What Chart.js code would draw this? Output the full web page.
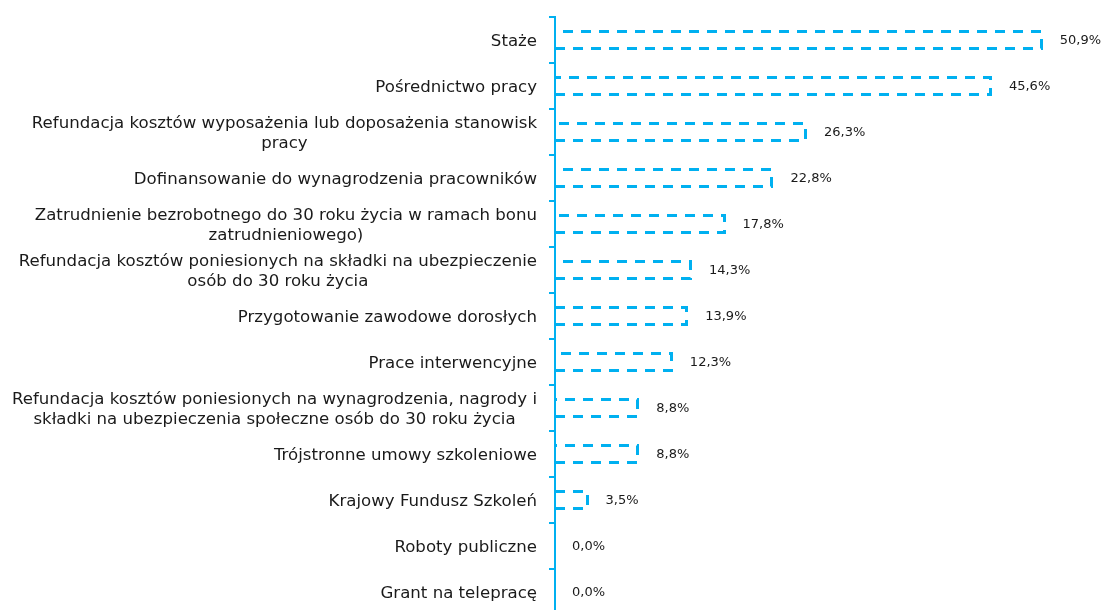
<!DOCTYPE html>
<html><head><meta charset="utf-8">
<script src="https://cdn.jsdelivr.net/npm/chart.js@4"></script>
<style>html,body{margin:0;padding:0;background:#fff;overflow:hidden}#wrap{position:relative;width:1103px;height:615px}</style>
</head><body><div id="wrap"><canvas id="c"></canvas></div>
<script>
const categories = [
  "Staże",
  "Pośrednictwo pracy",
  ["Refundacja kosztów wyposażenia lub doposażenia stanowisk", "pracy"],
  "Dofinansowanie do wynagrodzenia pracowników",
  ["Zatrudnienie bezrobotnego do 30 roku życia w ramach bonu", "zatrudnieniowego)"],
  ["Refundacja kosztów poniesionych na składki na ubezpieczenie", "osób do 30 roku życia"],
  "Przygotowanie zawodowe dorosłych",
  "Prace interwencyjne",
  ["Refundacja kosztów poniesionych na wynagrodzenia, nagrody i", "składki na ubezpieczenia społeczne osób do 30 roku życia"],
  "Trójstronne umowy szkoleniowe",
  "Krajowy Fundusz Szkoleń",
  "Roboty publiczne",
  "Grant na telepracę"
];
const values = [50.9, 45.6, 26.3, 22.8, 17.8, 14.3, 13.9, 12.3, 8.8, 8.8, 3.5, 0.0, 0.0];
const valueLabels = ["50,9%", "45,6%", "26,3%", "22,8%", "17,8%", "14,3%", "13,9%", "12,3%", "8,8%", "8,8%", "3,5%", "0,0%", "0,0%"];

const CYAN = '#00B0F0';
const TEXT = '#1a1a1a';
const LABEL_FONT = '16.6px "DejaVu Sans"';
const VALUE_FONT = '13px "DejaVu Sans"';

const dashedBars = {
  id: 'dashedBars',
  afterDatasetsDraw(chart) {
    const ctx = chart.ctx;
    const meta = chart.getDatasetMeta(0);
    ctx.save();
    ctx.strokeStyle = CYAN;
    ctx.lineWidth = 3;
    ctx.setLineDash([10, 8]);
    meta.data.forEach((bar, i) => {
      const p = bar.getProps(['x', 'y', 'base', 'height'], true);
      if (Math.abs(p.x - p.base) < 1) return;
      const t = Math.round(p.y - p.height / 2) + 1.5, b = Math.round(p.y + p.height / 2) - 1.5, r = Math.round(p.x) - 1.5;
      ctx.beginPath();
      ctx.moveTo(p.base, b);
      ctx.lineTo(r, b);
      ctx.lineTo(r, t);
      ctx.lineTo(p.base, t);
      ctx.stroke();
    });
    ctx.setLineDash([]);
    ctx.font = VALUE_FONT;
    ctx.fillStyle = TEXT;
    ctx.textAlign = 'left';
    ctx.textBaseline = 'middle';
    meta.data.forEach((bar, i) => {
      const p = bar.getProps(['x', 'y'], true);
      ctx.fillText(valueLabels[i], p.x + 17, p.y + 1);
    });
    ctx.restore();
  }
};

const categoryLabels = {
  id: 'categoryLabels',
  afterDraw(chart) {
    const ctx = chart.ctx;
    const ys = chart.scales.y;
    const right = chart.chartArea.left - 18;
    const LH = 20;
    ctx.save();
    ctx.font = LABEL_FONT;
    ctx.fillStyle = TEXT;
    ctx.textAlign = 'center';
    ctx.textBaseline = 'middle';
    chart.data.labels.forEach((lab, i) => {
      const lines = Array.isArray(lab) ? lab : [lab];
      const w = Math.max(...lines.map(l => ctx.measureText(l).width));
      const cx = right - w / 2;
      const cy = ys.getPixelForValue(i) + 1.5;
      lines.forEach((l, j) => ctx.fillText(l, cx, cy + (j - (lines.length - 1) / 2) * LH));
    });
    ctx.restore();
  }
};

new Chart(document.getElementById('c'), {
  type: 'bar',
  data: {
    labels: categories,
    datasets: [{ data: values, backgroundColor: 'rgba(0,0,0,0)', borderWidth: 0, barThickness: 20 }]
  },
  options: {
    indexAxis: 'y',
    responsive: true,
    maintainAspectRatio: false,
    animation: false,
    layout: { padding: { top: 17, right: 21, bottom: 0, left: 0 } },
    plugins: { legend: { display: false }, tooltip: { enabled: false } },
    scales: {
      x: { display: false, min: 0, max: 55 },
      y: {
        ticks: { display: false },
        grid: { display: true, drawOnChartArea: false, drawTicks: true, tickLength: 6, color: CYAN, lineWidth: 2 },
        border: { display: true, color: CYAN, width: 2 },
        afterFit(s) { s.width = 555; }
      }
    }
  },
  plugins: [dashedBars, categoryLabels]
});
</script>
</body></html>
